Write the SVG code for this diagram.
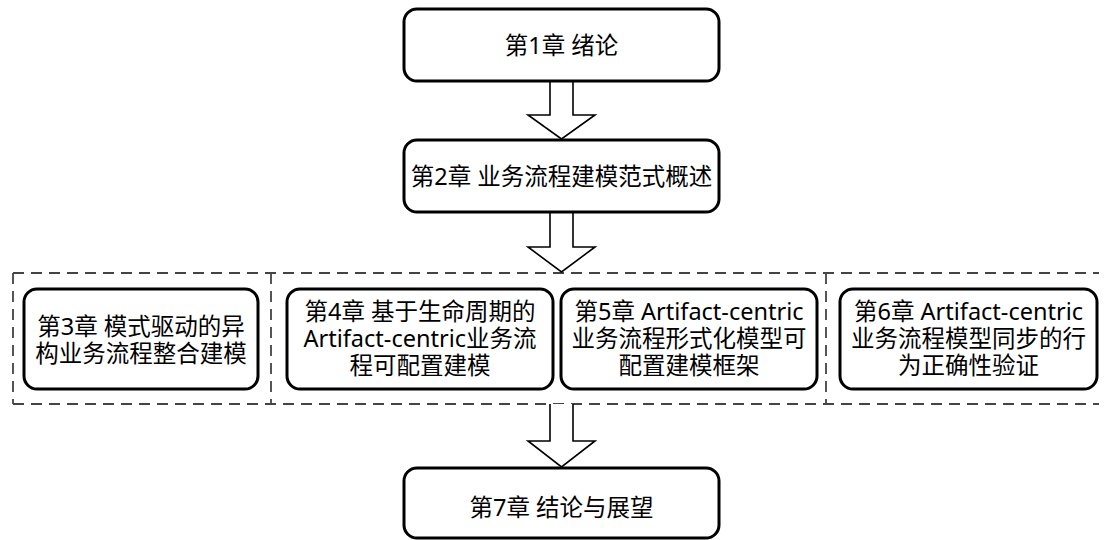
<svg xmlns="http://www.w3.org/2000/svg" width="1105" height="540" viewBox="0 0 1105 540">
<style>
.box{fill:#fff;stroke:#000;stroke-width:3}
.t{font-family:"Noto Sans","Noto Sans CJK SC",sans-serif;font-size:23.5px;fill:#000;text-anchor:middle;dominant-baseline:central}
.dash{fill:none;stroke:#444;stroke-width:1.8;stroke-dasharray:11 7}
.arr{fill:#fff;stroke:#000;stroke-width:1.6;stroke-linejoin:miter}
</style>
<rect width="1105" height="540" fill="#fff"/>
<g id="group-frame">
<path class="dash" d="M13,273 H1099 M13,404 H1099 M13,273 V404 M271,273 V404 M826,273 V404"/>
</g>
<g id="connectors">
<path class="arr" d="M550,82 V115 H528 L561.5,139 L595,115 H573 V82"/>
<path class="arr" d="M550,213 V247 H528 L561.5,272 L595,247 H573 V213"/>
<path class="arr" d="M550,404 V441 H528 L561.5,467 L595,441 H573 V404"/>
</g>
<g id="n1">
<rect class="box" x="404" y="9" width="315" height="72" rx="13"/>
<text class="t" x="561.5" y="45">第1章 绪论</text>
</g>
<g id="n2">
<rect class="box" x="404" y="140" width="315" height="72" rx="13"/>
<text class="t" x="561.5" y="176">第2章 业务流程建模范式概述</text>
</g>
<g id="n3">
<rect class="box" x="24" y="289" width="234" height="100" rx="13"/>
<text class="t" x="141" y="325.5">第3章 模式驱动的异</text>
<text class="t" x="141" y="352.5">构业务流程整合建模</text>
</g>
<g id="n4">
<rect class="box" x="287" y="289" width="266" height="100" rx="13"/>
<text class="t" x="420" y="311">第4章 基于生命周期的</text>
<text class="t" x="420" y="338">Artifact-centric业务流</text>
<text class="t" x="420" y="365">程可配置建模</text>
</g>
<g id="n5">
<rect class="box" x="561" y="289" width="256" height="100" rx="13"/>
<text class="t" x="689" y="311">第5章 Artifact-centric</text>
<text class="t" x="689" y="338">业务流程形式化模型可</text>
<text class="t" x="689" y="365">配置建模框架</text>
</g>
<g id="n6">
<rect class="box" x="840" y="289" width="257" height="100" rx="13"/>
<text class="t" x="968.5" y="311">第6章 Artifact-centric</text>
<text class="t" x="968.5" y="338">业务流程模型同步的行</text>
<text class="t" x="968.5" y="365">为正确性验证</text>
</g>
<g id="n7">
<rect class="box" x="404" y="468" width="315" height="70" rx="13"/>
<text class="t" x="561.5" y="507">第7章 结论与展望</text>
</g>
</svg>
